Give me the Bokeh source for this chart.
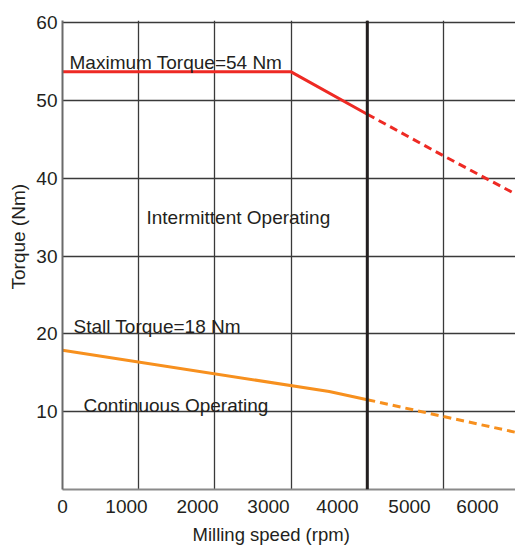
from bokeh.plotting import figure
from bokeh.models import FixedTicker, Span, Title, ColumnDataSource, Range1d
from bokeh.core.properties import value
from bokeh.embed import file_html
from bokeh.resources import INLINE

# ---- data ----
max_x_solid = [0, 3000, 4000]
max_y_solid = [53.7, 53.7, 48.25]
max_x_dash = [4000, 5000, 6000]
max_y_dash = [48.25, 42.9, 37.7]

stall_x_solid = [0, 3500, 4000]
stall_y_solid = [17.9, 12.6, 11.55]
stall_x_dash = [4000, 5000, 6000]
stall_y_dash = [11.55, 9.38, 7.24]

limit_speed = 4000

grid_x = [1000, 2000, 3000, 4000, 5000, 6000]
grid_y = [10, 20, 30, 40, 50, 60]
# tick labels sit where they are printed in the original (offset from grid)
x_tick_pos = [0, 840, 1772, 2703, 3609, 4554, 5446]
x_tick_labels = ["0", "1000", "2000", "3000", "4000", "5000", "6000"]
y_tick_pos = [10, 20, 30, 40, 50, 60]
y_tick_labels = ["10", "20", "30", "40", "50", "60"]

note_x = [92, 1102, 144, 276]
note_y = [54.84, 34.91, 21.02, 10.86]
note_text = ["Maximum Torque=54 Nm", "Intermittent Operating",
             "Stall Torque=18 Nm", "Continuous Operating"]

x_title = "Milling speed (rpm)"
y_title = "Torque (Nm)"

FONT = "Liberation Sans"
TXT = "#231f20"
RED = "#ee2a24"
ORANGE = "#f7901e"

p = figure(width=515, height=552, output_backend="svg", toolbar_location=None,
           x_range=Range1d(0, 5945), y_range=Range1d(0, 60.3),
           min_border_left=62, min_border_right=0, min_border_top=20,
           min_border_bottom=63)
p.outline_line_color = None
p.background_fill_color = "white"
p.border_fill_color = "white"

# grids
p.xgrid.ticker = FixedTicker(ticks=grid_x)
p.ygrid.ticker = FixedTicker(ticks=grid_y)
for g in (p.xgrid, p.ygrid):
    g.grid_line_color = "#3a3a3a"
    g.grid_line_width = 1.3

# axes
p.xaxis.ticker = FixedTicker(ticks=x_tick_pos)
p.xaxis.major_label_overrides = {k: v for k, v in zip(x_tick_pos, x_tick_labels)}
p.yaxis.ticker = FixedTicker(ticks=y_tick_pos)
p.yaxis.major_label_overrides = {k: v for k, v in zip(y_tick_pos, y_tick_labels)}
for ax in (p.xaxis, p.yaxis):
    ax.major_tick_out = 0
    ax.major_tick_in = 0
    ax.minor_tick_out = 0
    ax.minor_tick_in = 0
    ax.major_label_text_font = FONT
    ax.major_label_text_font_size = "19px"
    ax.major_label_text_color = TXT
    ax.axis_line_width = 2
p.xaxis.axis_line_color = "#8a8a8a"
p.yaxis.axis_line_color = "#6a6a6a"
p.xaxis.major_label_standoff = 10
p.yaxis.major_label_standoff = 5

# axis titles (as titles so they can be offset like the original)
p.add_layout(Title(text=x_title, align="left", offset=130, standoff=13,
                   text_font=FONT, text_font_size="18.5px", text_color=TXT,
                   text_font_style="normal"), "below")
p.add_layout(Title(text=y_title, align="left", offset=200, standoff=10,
                   text_font=FONT, text_font_size="19px", text_color=TXT,
                   text_font_style="normal"), "left")

# thick limit line
p.add_layout(Span(location=limit_speed, dimension="height",
                  line_color="#231f20", line_width=3))

# curves
p.line(max_x_solid, max_y_solid, line_color=RED, line_width=3)
p.line(max_x_dash, max_y_dash, line_color=RED, line_width=3, line_dash="8 5")
p.line(stall_x_solid, stall_y_solid, line_color=ORANGE, line_width=3)
p.line(stall_x_dash, stall_y_dash, line_color=ORANGE, line_width=3, line_dash="8 5")

# annotations
src = ColumnDataSource(dict(x=note_x, y=note_y, text=note_text))
p.text(x="x", y="y", text="text", source=src, text_font=value(FONT),
       text_font_size="19px", text_color=TXT, text_align="left",
       text_baseline="alphabetic")

open("out.html", "w").write(file_html(p, INLINE))
